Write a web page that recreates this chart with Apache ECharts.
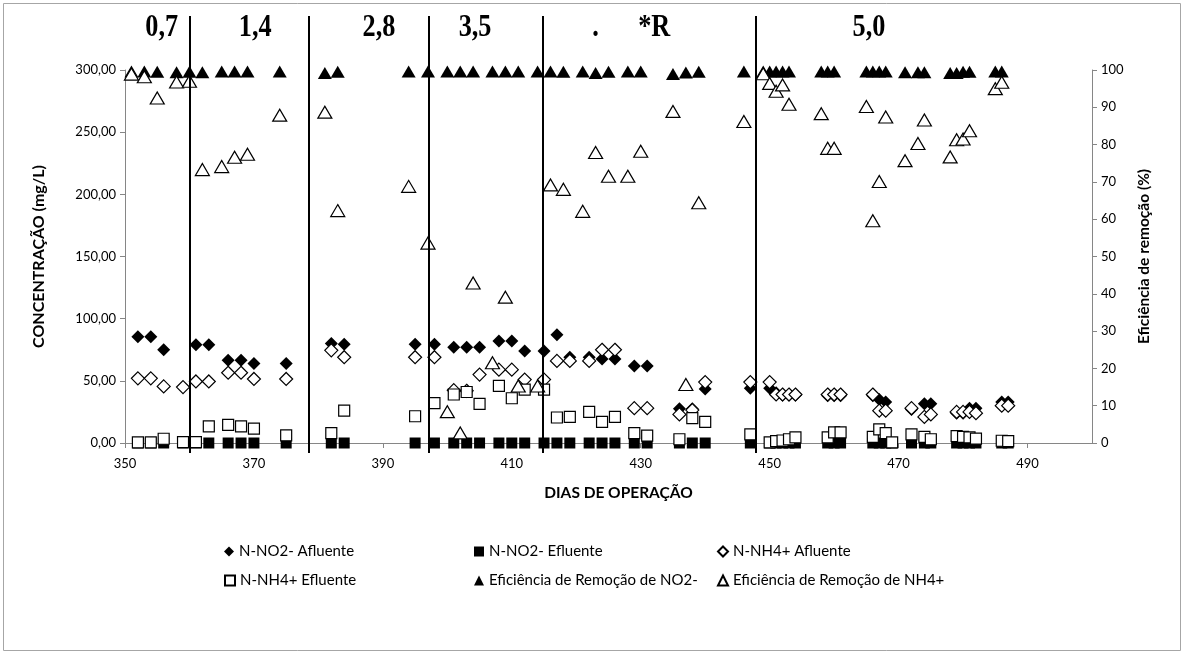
<!DOCTYPE html>
<html>
<head>
<meta charset="utf-8">
<script src="https://cdn.jsdelivr.net/npm/echarts@6/dist/echarts.min.js"></script>
<style>
  html, body { margin: 0; padding: 0; background: #ffffff; }
  #chart { width: 1184px; height: 655px; }
</style>
</head>
<body>
<div id="chart"></div>
<script>
// Operating days of the reactor (concentration samples)
const days = [352, 354, 356, 359, 361, 363, 366, 368, 370, 375,
  382, 384, 395, 398, 401, 403, 405, 408, 410, 412, 415,
  417, 419, 422, 424, 426, 429, 431, 436, 438, 440, 447,
  450, 451, 452, 453, 454, 459, 460, 461, 466, 467, 468, 469,
  472, 474, 475, 479, 480, 481, 482, 486, 487];

// Days on which the removal efficiencies are plotted
const effDays = [351, 353, 355, 358, 360, 362, 365, 367, 369, 374,
  381, 383, 394, 397, 400, 402, 404, 407, 409, 411, 414,
  416, 418, 421, 423, 425, 428, 430, 435, 437, 439, 446,
  449, 450, 451, 452, 453, 458, 459, 460, 465, 466, 467, 468,
  471, 473, 474, 478, 479, 480, 481, 485, 486];

// N-NO2- afluente (mg/L)
const no2Afluente = [85.5, 85.5, 75, null, 79, 79, 66.5, 66.5, 64, 64,
  80, 79.5, 79.5, 79.5, 77, 77, 77, 82, 82, 74, 74,
  87, 69, 69, 67.5, 67.5, 62, 62, 27.5, 27.5, 43.5, 44,
  44, 40.5, 38.5, 38.5, 38.5, 38, 38, 38, 38, 35, 33, null,
  27, 31.5, 31.5, 24, 24, 28, 28, 33, 33];

// N-NO2- efluente (mg/L)
const no2Efluente = [0, 0, 0, 0, 0, 0, 0, 0, 0, 0,
  0, 0, 0, 0, 0, 0, 0, 0, 0, 0, 0,
  0, 0, 0, 0, 0, 0, 0, 0, 0, 0, 0,
  0, 0, 0, 0, 0, 0, 0, 0, 0, 0, 0, 0,
  0, 0, 0, 0, 0, 0, 0, 0, 0];

// N-NH4+ afluente (mg/L)
const nh4Afluente = [52, 52, 45.5, 45, 49.5, 49.5, 56.5, 56.5, 51.5, 51.5,
  74.5, 69, 69, 69, 42.5, 42, 55, 59, 59, 51, 51,
  66, 66, 66, 75, 75, 28, 28, 23, 26.5, 49, 49,
  49, 39, 39, 39, 39, 39, 39, 39, 39, 26, 26, null,
  28, 21, 23, 25, 25, 25, 24, 30, 30];

// N-NH4+ efluente (mg/L)
const nh4Efluente = [0.5, 0.5, 3.4, 0.7, 0.7, 13.3, 14.5, 13.3, 11.5, 6.2,
  8, 26, 21.5, 32, 39, 41, 31.5, 46, 36, 43, 43,
  20.5, 21, 25, 17, 21, 8, 6, 3, 20, 17, 7,
  0.5, 1.5, 2, 3, 4.5, 4.5, 8.5, 8.5, 5, 11, 8, 0.5,
  7, 5, 3, 5.5, 5, 4.5, 3.5, 1.8, 1.5];

// Removal efficiency of NO2- (%)
const effNo2 = [99.6, 99.6, 99.5, 99.4, 99.5, 99.4, 99.6, 99.6, 99.6, 99.6,
  99.2, 99.5, 99.6, 99.6, 99.6, 99.6, 99.6, 99.6, 99.6, 99.6, 99.6,
  99.6, 99.5, 99.6, 99.2, 99.5, 99.6, 99.6, 98.9, 99.3, 99.5, 99.6,
  99.6, 99.6, 99.6, 99.6, 99.6, 99.6, 99.6, 99.6, 99.6, 99.6, 99.6, 99.6,
  99.4, 99.4, 99.4, 99.2, 99.2, 99.5, 99.5, 99.6, 99.6];

// Removal efficiency of NH4+ (%)
const effNh4 = [98.9, 98.2, 92.5, 96.8, 97, 73.3, 74.1, 76.6, 77.4, 87.9,
  88.7, 62.3, 68.8, 53.6, 8.4, 2.7, 42.9, 21.5, 39.1, 15.3, 15.3,
  69.2, 68, 62.1, 77.9, 71.5, 71.5, 78.2, 88.9, 15.7, 64.4, 86.2,
  99, 96.4, 94.3, 96, 90.8, 88.3, 79, 79, 90.2, 59.6, 70.1, 87.4,
  75.7, 80.3, 86.6, 76.7, 81.3, 81.5, 83.7, 95, 96.7];

// Phase boundaries and phase labels along the top
const phaseBoundaries = [360.1, 378.6, 397.2, 414.85, 447.9];
const phaseLabels = ['0,7', '1,4', '2,8', '3,5', '.', '*R', '5,0'];
const phaseLabelDays = [355.7, 370.2, 389.4, 404.3, 423, 432.1, 465.4];

const xTicks = [350, 370, 390, 410, 430, 450, 470, 490];

const seriesNames = [
  'N-NO2- Afluente', 'N-NO2- Efluente', 'N-NH4+ Afluente',
  'N-NH4+ Efluente', 'Eficiência de Remoção de NO2-', 'Eficiência de Remoção de NH4+'
];

const FONT = 'Lato, "Noto Sans", sans-serif';
const AXIS_GRAY = '#868686';

function pairs(xs, ys) {
  const out = [];
  xs.forEach((x, i) => { if (ys[i] != null) out.push([x, ys[i]]); });
  return out;
}

const filled = { color: '#000000', opacity: 1 };
const hollow = { color: '#ffffff', borderColor: '#000000', borderWidth: 1.2, opacity: 1 };

const chart = echarts.init(document.getElementById('chart'), null, { renderer: 'canvas' });

const legendPos = [[219, 539], [469, 539], [712, 539], [219, 568], [469, 568], [712, 568]];

const option = {
  animation: false,
  backgroundColor: '#ffffff',
  grid: { left: 125, right: 92, top: 70, bottom: 212, containLabel: false },
  legend: seriesNames.map((name, i) => ({
    data: [name],
    left: legendPos[i][0],
    top: legendPos[i][1],
    itemWidth: 10,
    itemHeight: 10,
    selectedMode: false,
    textStyle: { fontFamily: FONT, fontSize: 15, color: '#000000' }
  })),
  xAxis: {
    type: 'value',
    min: 350,
    max: 500,
    name: 'DIAS DE OPERAÇÃO',
    nameLocation: 'middle',
    nameGap: 42,
    nameTextStyle: { fontFamily: FONT, fontSize: 15.5, fontWeight: 'bold', color: '#000000', padding: [0, 0, 0, 20] },
    axisLine: { show: true, onZero: false, lineStyle: { color: AXIS_GRAY, width: 1 } },
    axisTick: { show: true, customValues: xTicks, length: 5, lineStyle: { color: AXIS_GRAY } },
    axisLabel: { customValues: xTicks, fontFamily: FONT, fontSize: 13, color: '#000000', margin: 14 },
    splitLine: { show: false }
  },
  yAxis: [
    {
      type: 'value',
      min: 0,
      max: 300,
      interval: 50,
      position: 'left',
      name: 'CONCENTRAÇÃO (mg/L)',
      nameLocation: 'middle',
      nameRotate: 90,
      nameGap: 78,
      nameTextStyle: { fontFamily: FONT, fontSize: 16, fontWeight: 'bold', color: '#000000' },
      axisLine: { show: true, lineStyle: { color: AXIS_GRAY, width: 1 } },
      axisTick: { show: true, length: 5, lineStyle: { color: AXIS_GRAY } },
      axisLabel: {
        fontFamily: FONT, fontSize: 13, color: '#000000', margin: 9,
        formatter: v => v.toFixed(2).replace('.', ',')
      },
      splitLine: { show: false }
    },
    {
      type: 'value',
      min: 0,
      max: 100,
      interval: 10,
      position: 'right',
      name: 'Eficiência de remoção (%)',
      nameLocation: 'middle',
      nameRotate: 90,
      nameGap: 44,
      nameTextStyle: { fontFamily: FONT, fontSize: 15.5, fontWeight: 'bold', color: '#000000' },
      axisLine: { show: true, lineStyle: { color: AXIS_GRAY, width: 1 } },
      axisTick: { show: true, length: 5, lineStyle: { color: AXIS_GRAY } },
      axisLabel: { fontFamily: FONT, fontSize: 13, color: '#000000', margin: 9 },
      splitLine: { show: false }
    }
  ],
  series: [
    { name: seriesNames[0], type: 'scatter', yAxisIndex: 0, symbol: 'diamond', symbolSize: 13,
      itemStyle: filled, data: pairs(days, no2Afluente) },
    { name: seriesNames[1], type: 'scatter', yAxisIndex: 0, symbol: 'rect', symbolSize: 11,
      itemStyle: filled, data: pairs(days, no2Efluente) },
    { name: seriesNames[2], type: 'scatter', yAxisIndex: 0, symbol: 'diamond', symbolSize: 13,
      itemStyle: hollow, data: pairs(days, nh4Afluente) },
    { name: seriesNames[3], type: 'scatter', yAxisIndex: 0, symbol: 'rect', symbolSize: 11,
      itemStyle: hollow, data: pairs(days, nh4Efluente) },
    { name: seriesNames[4], type: 'scatter', yAxisIndex: 1, symbol: 'triangle', symbolSize: [14, 12],
      itemStyle: filled, data: pairs(effDays, effNo2) },
    { name: seriesNames[5], type: 'scatter', yAxisIndex: 1, symbol: 'triangle', symbolSize: [14, 12],
      itemStyle: hollow, data: pairs(effDays, effNh4) }
  ]
};

chart.setOption(option);

// Phase separators and phase labels, placed through the x axis scale
function drawPhases() {
  const yBottom = chart.convertToPixel({ yAxisIndex: 0 }, 0);
  const elements = [
    {
      type: 'rect', silent: true, z: 0,
      shape: { x: 3.5, y: 3.5, width: 1177, height: 647 },
      style: { fill: 'none', stroke: '#a6a6a6', lineWidth: 1 }
    }
  ];
  phaseBoundaries.forEach(d => {
    const x = Math.round(chart.convertToPixel({ xAxisIndex: 0 }, d));
    elements.push({
      type: 'line', silent: true, z: 10,
      shape: { x1: x, y1: 16, x2: x, y2: yBottom + 10 },
      style: { stroke: '#000000', lineWidth: 2 }
    });
  });
  phaseLabels.forEach((t, i) => {
    const x = chart.convertToPixel({ xAxisIndex: 0 }, phaseLabelDays[i]);
    elements.push({
      type: 'text', silent: true, z: 10,
      x: x, y: 28, scaleX: 0.82,
      style: {
        text: t, align: 'center', verticalAlign: 'middle',
        font: 'bold 32px "Liberation Serif", "DejaVu Serif", serif', fill: '#000000'
      }
    });
  });
  chart.setOption({ graphic: { elements: elements } });
}
drawPhases();
</script>
</body>
</html>
